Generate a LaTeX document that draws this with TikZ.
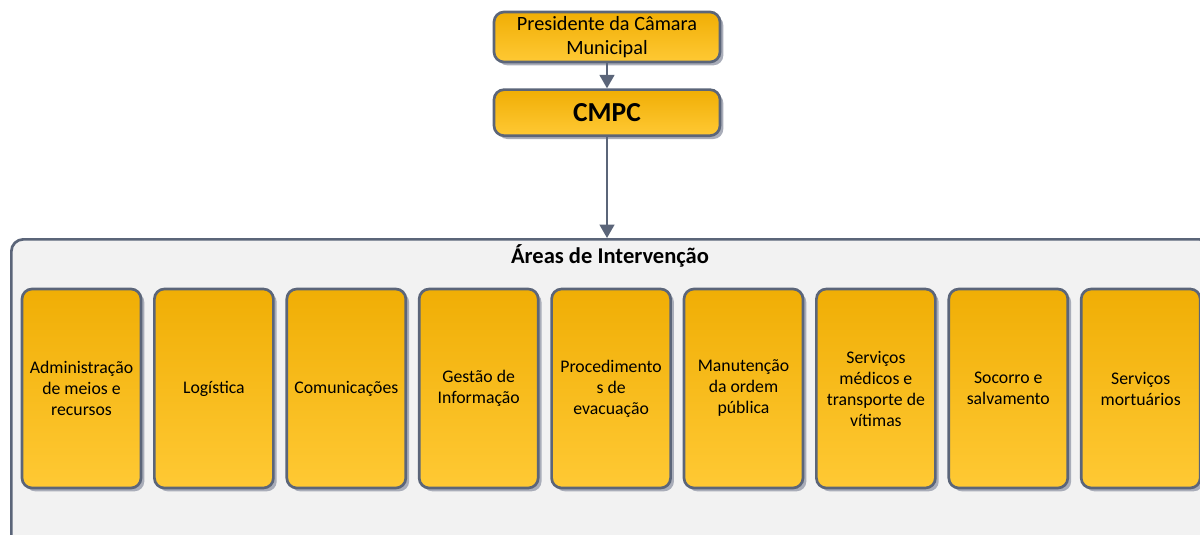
\documentclass[tikz,border=0pt]{standalone}
\usepackage{fontspec}
\setmainfont{Carlito}
\usepackage{tikz}
\usepackage{xcolor}
\usetikzlibrary{arrows.meta}
\usetikzlibrary{positioning, shadows}

\definecolor{borda}{HTML}{5B6579}
\definecolor{ouro}{HTML}{F0AE05}
\definecolor{ouroclaro}{HTML}{FFC934}
\definecolor{sombra}{HTML}{A9ADB9}
\definecolor{fundo}{HTML}{F2F2F2}

\tikzset{
  caixa/.style={draw=borda, line width=2pt, rounded corners=7.5pt,
    top color=ouro, bottom color=ouroclaro, align=center, text=black,
    inner sep=2pt, font=\fontsize{13.3}{15.75}\selectfont,
    drop shadow={shadow xshift=2.5pt, shadow yshift=-2.5pt, fill=sombra, opacity=1}},
  area/.style={caixa, minimum width=89.25pt, minimum height=149.25pt},
  topo/.style={caixa, minimum width=169.5pt},
  seta/.style={draw=borda, line width=1.6pt, -{Triangle[width=11pt,length=10pt]}},
}

\begin{document}
\begin{tikzpicture}[x=0.75pt, y=-0.75pt]
    \useasboundingbox (0,0) rectangle (1200,535);
    \clip (0,0) rectangle (1200,535);

    \node[topo, minimum height=37.5pt, font=\fontsize{15.2}{17.5}\selectfont] (pres) at (607,37) {Presidente da Câmara\\Municipal};
    \node[topo, minimum height=34.5pt, below=18.75pt of pres, font=\bfseries\fontsize{20.6}{24}\selectfont] (cmpc) {CMPC};

    \node[draw=borda, line width=2pt, fill=fundo, rounded corners=9pt, anchor=north west,
      minimum width=900pt, minimum height=240pt, inner sep=0pt] (areas) at (10,238) {};
    \node[font=\bfseries\fontsize{16.9}{20}\selectfont] (titulo) at (610,256) {Áreas de Intervenção};

    \foreach \texto [count=\i] in {{Administração\\de meios e\\recursos}, Logística, Comunicações,
      {Gestão de\\Informação}, {Procedimento\\s de\\evacuação}, {Manutenção\\da ordem\\pública},
      {Serviços\\médicos e\\transporte de\\vítimas}, {Socorro e\\salvamento}, {Serviços\\mortuários}}
        \node[area] (a\i) at ({81.5+132.4*(\i-1)},388.5) {\texto};

    \coordinate (entrada) at (cmpc.south |- areas.north);
    \draw[seta] (pres) -- (cmpc);
    \draw[seta] (cmpc) -- (entrada);
\end{tikzpicture}
\end{document}
